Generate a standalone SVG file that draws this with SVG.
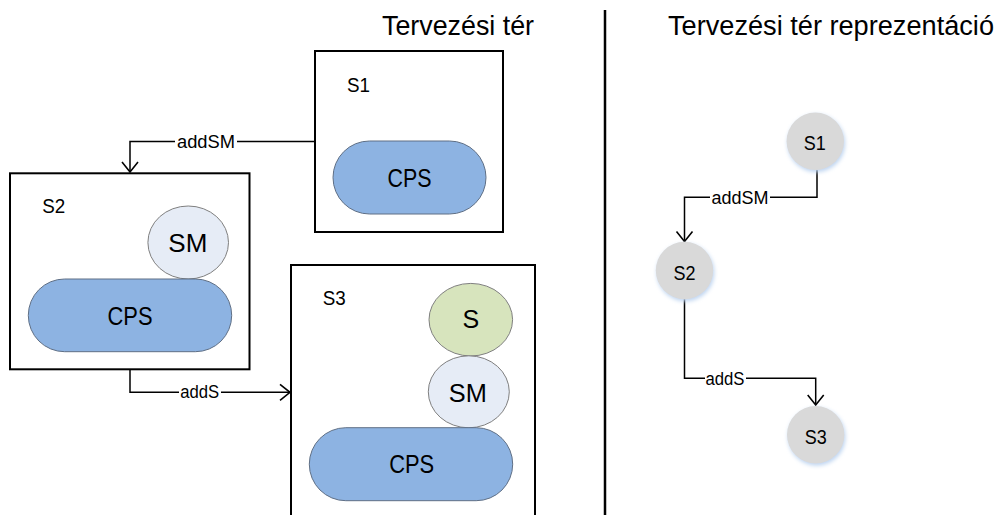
<svg xmlns="http://www.w3.org/2000/svg" width="1005" height="515" viewBox="0 0 1005 515">
<style>
text{font-family:"Liberation Sans",Arial,sans-serif;fill:#000}
.box{fill:#fff;stroke:#000;stroke-width:2}
.cps{fill:#8db3e2;stroke:#5f6f85;stroke-width:1}
.sm{fill:#e6ecf6;stroke:#7f7f7f;stroke-width:1}
.s{fill:#d7e4bd;stroke:#7f7f7f;stroke-width:1}
.st{fill:#d9d9d9;filter:url(#glow)}
.big{font-size:25px;text-anchor:middle}
.lbl{font-size:20px}
.nl{font-size:20px;text-anchor:middle}
.cl{font-size:17.5px;text-anchor:middle}
.conn{fill:none;stroke:#000;stroke-width:1.5}
.bg{fill:#fff}
.title{font-size:28px}
</style>
<defs>
<marker id="arr" markerUnits="userSpaceOnUse" markerWidth="24" markerHeight="24" viewBox="-12 -12 24 24" refX="0" refY="0" orient="auto">
<path d="M-10,-8 L0,0 L-10,8" fill="none" stroke="#000" stroke-width="1.6"/>
</marker>
<filter id="glow" x="-30%" y="-30%" width="160%" height="160%">
<feGaussianBlur in="SourceAlpha" stdDeviation="2"/>
<feOffset dx="1" dy="2" result="b"/>
<feFlood flood-color="#bcd3f0"/>
<feComposite in2="b" operator="in"/>
<feMerge><feMergeNode/><feMergeNode in="SourceGraphic"/></feMerge>
</filter>
</defs>
<rect width="1005" height="515" fill="#fff"/>
<text class="title" x="382" y="35" textLength="152" lengthAdjust="spacingAndGlyphs">Tervezési tér</text>
<text class="title" x="668" y="35" style="font-size:27px" textLength="326" lengthAdjust="spacingAndGlyphs">Tervezési tér reprezentáció</text>
<line x1="605" y1="10" x2="605" y2="515" stroke="#000" stroke-width="2.5"/>

<g id="connectors">
<path class="conn" d="M315,141.5 H130 V172" marker-end="url(#arr)"/>
<path class="conn" d="M130,369 V392.3 H290" marker-end="url(#arr)"/>
<path class="conn" d="M817,170 V197.3 H684.5 V241.5" marker-end="url(#arr)"/>
<path class="conn" d="M684.5,299 V378.3 H815.7 V405" marker-end="url(#arr)"/>
<rect class="bg" x="175" y="134" width="62" height="15"/>
<text class="cl" x="206" y="147.8" textLength="58" lengthAdjust="spacingAndGlyphs">addSM</text>
<rect class="bg" x="179" y="385" width="42" height="15"/>
<text class="cl" x="199.7" y="398" textLength="39" lengthAdjust="spacingAndGlyphs">addS</text>
<rect class="bg" x="710" y="190" width="60" height="15"/>
<text class="cl" x="740" y="203.5" textLength="57" lengthAdjust="spacingAndGlyphs">addSM</text>
<rect class="bg" x="705" y="371" width="41" height="15"/>
<text class="cl" x="725" y="384.5" textLength="39" lengthAdjust="spacingAndGlyphs">addS</text>
</g>

<g id="box-S1">
<rect class="box" x="315" y="51" width="188" height="181"/>
<text class="lbl" x="347" y="91.7" textLength="23" lengthAdjust="spacingAndGlyphs">S1</text>
<rect class="cps" x="333" y="141" width="153" height="73" rx="36.5"/>
<text class="big" x="409.5" y="186.7" textLength="44" lengthAdjust="spacingAndGlyphs">CPS</text>
</g>

<g id="box-S2">
<rect class="box" x="10" y="173.3" width="239.5" height="196"/>
<text class="lbl" x="42.3" y="213.3" textLength="23" lengthAdjust="spacingAndGlyphs">S2</text>
<ellipse class="sm" cx="188.2" cy="242.5" rx="40.3" ry="36.5"/>
<text class="big" x="187.8" y="252.3" textLength="39" lengthAdjust="spacingAndGlyphs">SM</text>
<rect class="cps" x="28.3" y="279" width="203.4" height="72.7" rx="36.3"/>
<text class="big" x="130" y="325" textLength="45" lengthAdjust="spacingAndGlyphs">CPS</text>
</g>

<g id="box-S3">
<path class="box" d="M291,516 V265 H535 V516"/>
<text class="lbl" x="322.7" y="305" textLength="23" lengthAdjust="spacingAndGlyphs">S3</text>
<ellipse class="s" cx="470.8" cy="319.7" rx="41.8" ry="36.3"/>
<text class="big" x="470.8" y="328.3">S</text>
<ellipse class="sm" cx="468.8" cy="391.8" rx="40.5" ry="36"/>
<text class="big" x="467.8" y="401.7" textLength="38" lengthAdjust="spacingAndGlyphs">SM</text>
<rect class="cps" x="309.3" y="427.7" width="203.4" height="73" rx="36.5"/>
<text class="big" x="411.7" y="472.7" textLength="45" lengthAdjust="spacingAndGlyphs">CPS</text>
</g>

<g id="node-S1">
<circle class="st" cx="815.3" cy="141.3" r="28.7"/>
<text class="nl" x="814.7" y="150" textLength="22" lengthAdjust="spacingAndGlyphs">S1</text>
</g>
<g id="node-S2">
<circle class="st" cx="684.5" cy="270.5" r="28.7"/>
<text class="nl" x="684.5" y="280" textLength="22" lengthAdjust="spacingAndGlyphs">S2</text>
</g>
<g id="node-S3">
<circle class="st" cx="815.7" cy="434.7" r="28.7"/>
<text class="nl" x="815.7" y="444" textLength="22" lengthAdjust="spacingAndGlyphs">S3</text>
</g>
</svg>
